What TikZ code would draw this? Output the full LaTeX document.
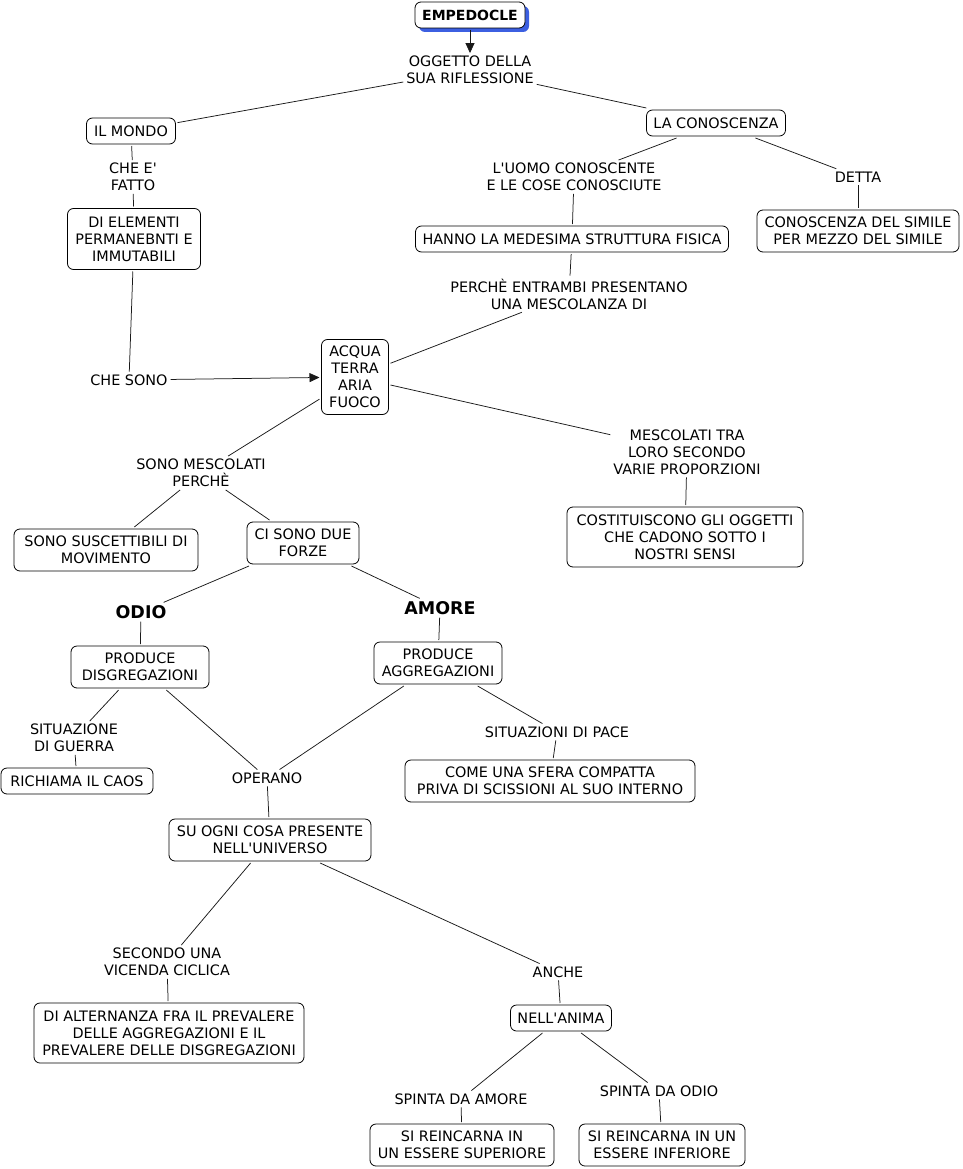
\documentclass[tikz,border=0pt]{standalone}
\usepackage{fontspec}
\setmainfont{DejaVu Sans}[Ligatures=TeXOff]
\usetikzlibrary{arrows.meta,shadows}
\definecolor{shblue}{RGB}{60,95,225}
\begin{document}
\begin{tikzpicture}[x=1pt,y=-1pt,
  every node/.style={font=\fontsize{14.4}{17}\selectfont, align=center},
  box/.style={draw=black, line width=0.8pt, rounded corners=6pt, fill=white, inner sep=0pt, outer sep=2pt},
  bx/.style 2 args={box, minimum width=#1pt, minimum height=#2pt},
  lab/.style={inner sep=2pt, outer sep=1pt},
  big/.style={font=\fontsize{17.5}{20}\selectfont\bfseries},
  conn/.style={line width=0.75pt, draw=black!90},
  arr/.style={conn, -{Triangle[length=10pt,width=9pt]}}]
\fill[white] (0,0) rectangle (962,1169);
\useasboundingbox (0,0) rectangle (962,1169);

% concepts
\node[bx={110}{26}, font=\fontsize{14}{17}\selectfont\bfseries,
      drop shadow={shadow xshift=4pt,shadow yshift=-4pt,fill=shblue,opacity=1}] (emp) at (470,15) {EMPEDOCLE};
\node[bx={89}{26}] (mondo) at (131,131) {IL MONDO};
\node[bx={139}{26}] (conosc) at (716,123) {LA CONOSCENZA};
\node[bx={133}{61}] (elem) at (134,239) {DI ELEMENTI\\PERMANEBNTI E\\IMMUTABILI};
\node[bx={313}{26}] (hanno) at (572,239) {HANNO LA MEDESIMA STRUTTURA FISICA};
\node[bx={202}{42}] (simile) at (858,231) {CONOSCENZA DEL SIMILE\\PER MEZZO DEL SIMILE};
\node[bx={67}{75}] (acqua) at (355,377) {ACQUA\\TERRA\\ARIA\\FUOCO};
\node[bx={184}{42}] (susc) at (106,550) {SONO SUSCETTIBILI DI\\MOVIMENTO};
\node[bx={112}{42}] (forze) at (303,543) {CI SONO DUE\\FORZE};
\node[bx={236}{60}] (costit) at (685,537) {COSTITUISCONO GLI OGGETTI\\CHE CADONO SOTTO I\\NOSTRI SENSI};
\node[lab, big] (odio) at (141,612) {ODIO};
\node[lab, big] (amore) at (440,608) {AMORE};
\node[bx={138}{42}] (disgr) at (140,667) {PRODUCE\\DISGREGAZIONI};
\node[bx={128}{42}] (aggr) at (438,663) {PRODUCE\\AGGREGAZIONI};
\node[bx={152}{26}] (caos) at (77,781) {RICHIAMA IL CAOS};
\node[bx={290}{42}] (sfera) at (550,781) {COME UNA SFERA COMPATTA\\PRIVA DI SCISSIONI AL SUO INTERNO};
\node[bx={202}{42}] (univ) at (270,840) {SU OGNI COSA PRESENTE\\NELL'UNIVERSO};
\node[bx={270}{60}] (altern) at (169,1033) {DI ALTERNANZA FRA IL PREVALERE\\DELLE AGGREGAZIONI E IL\\PREVALERE DELLE DISGREGAZIONI};
\node[bx={101}{26}] (anima) at (561,1018) {NELL'ANIMA};
\node[bx={184}{42}] (sup) at (462,1145) {SI REINCARNA IN\\UN ESSERE SUPERIORE};
\node[bx={166}{42}] (inf) at (662,1145) {SI REINCARNA IN UN\\ESSERE INFERIORE};

% linking phrases
\node[lab] (ogg) at (470,70) {OGGETTO DELLA\\SUA RIFLESSIONE};
\node[lab] (chee) at (133,177) {CHE E'\\FATTO};
\node[lab] (uomo) at (574,177) {L'UOMO CONOSCENTE\\E LE COSE CONOSCIUTE};
\node[lab] (detta) at (858,177) {DETTA};
\node[lab] (perche) at (569,294) {PERCHÈ ENTRAMBI PRESENTANO\\UNA MESCOLANZA DI};
\node[lab] (chesono) at (129,380) {CHE SONO};
\node[lab] (mesc1) at (201,473) {SONO MESCOLATI\\PERCHÈ};
\node[lab] (mesc2) at (687,452) {MESCOLATI TRA\\LORO SECONDO\\VARIE PROPORZIONI};
\node[lab] (guerra) at (74,738) {SITUAZIONE\\DI GUERRA};
\node[lab] (operano) at (267,778) {OPERANO};
\node[lab] (pace) at (557,732) {SITUAZIONI DI PACE};
\node[lab] (secondo) at (167,962) {SECONDO UNA\\VICENDA CICLICA};
\node[lab] (anche) at (558,972) {ANCHE};
\node[lab] (spamore) at (461,1099) {SPINTA DA AMORE};
\node[lab] (spodio) at (659,1091) {SPINTA DA ODIO};

% connectors
\draw[arr] (emp) -- (ogg);
\draw[conn] (ogg) -- (mondo);
\draw[conn] (ogg) -- (conosc);
\draw[conn] (mondo) -- (chee);
\draw[conn] (chee) -- (elem);
\draw[conn] (elem) -- (chesono);
\draw[arr] (chesono) -- (acqua);
\draw[conn] (conosc) -- (uomo);
\draw[conn] (conosc) -- (detta);
\draw[conn] (detta) -- (simile);
\draw[conn] (uomo) -- (hanno);
\draw[conn] (hanno) -- (perche);
\draw[conn] (perche) -- (acqua);
\draw[conn] (acqua) -- (mesc1);
\draw[conn] (acqua) -- (mesc2);
\draw[conn] (mesc2) -- (costit);
\draw[conn] (mesc1) -- (susc);
\draw[conn] (mesc1) -- (forze);
\draw[conn] (forze) -- (odio);
\draw[conn] (forze) -- (amore);
\draw[conn] (odio) -- (disgr);
\draw[conn] (amore) -- (aggr);
\draw[conn] (disgr) -- (guerra);
\draw[conn] (disgr) -- (operano);
\draw[conn] (guerra) -- (caos);
\draw[conn] (aggr) -- (operano);
\draw[conn] (aggr) -- (pace);
\draw[conn] (pace) -- (sfera);
\draw[conn] (operano) -- (univ);
\draw[conn] (univ) -- (secondo);
\draw[conn] (univ) -- (anche);
\draw[conn] (secondo) -- (altern);
\draw[conn] (anche) -- (anima);
\draw[conn] (anima) -- (spamore);
\draw[conn] (anima) -- (spodio);
\draw[conn] (spamore) -- (sup);
\draw[conn] (spodio) -- (inf);
\end{tikzpicture}
\end{document}
